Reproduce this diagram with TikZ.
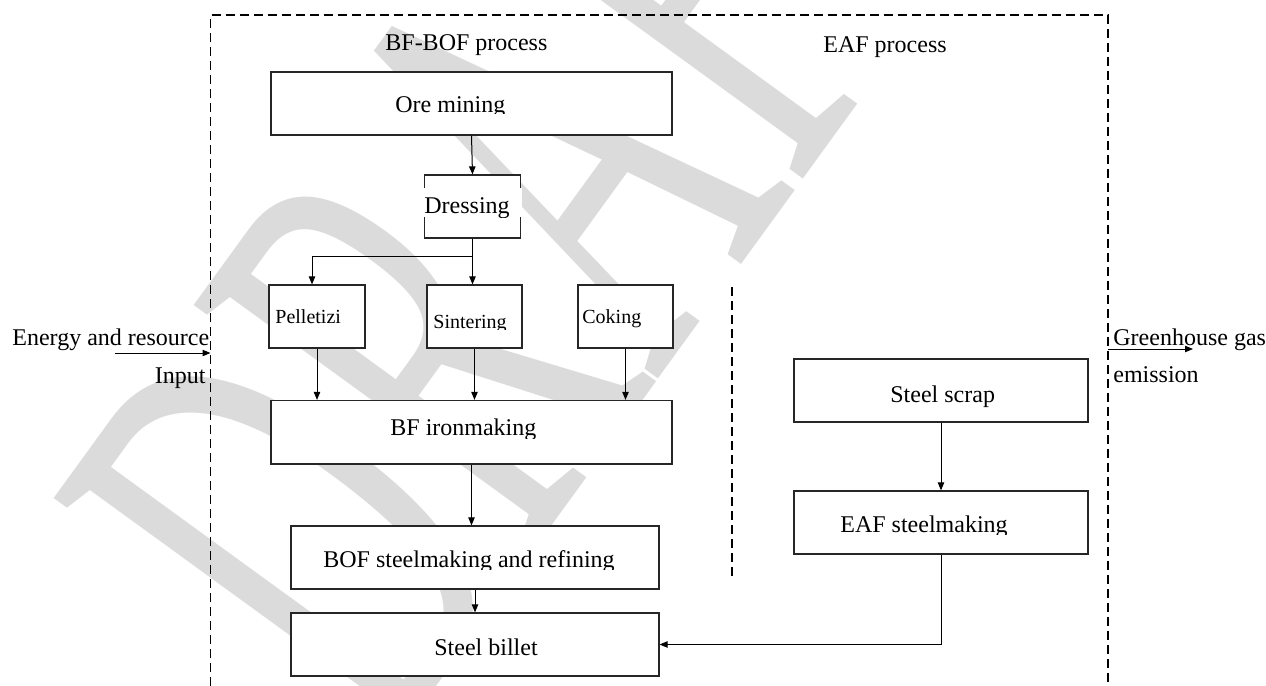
\documentclass[tikz,border=0pt]{standalone}
\usepackage{fontspec}
\setmainfont{Liberation Serif}
\usetikzlibrary{arrows.meta,calc}
\definecolor{wmgray}{gray}{0.86}
\begin{document}
\begin{tikzpicture}[x=0.5pt,y=0.5pt,
  box/.style={draw=black!85, line width=0.6pt, fill=white, inner sep=0pt, minimum height=31.5pt},
  arr/.style={line width=0.5pt, -{Triangle[length=4pt,width=3.2pt]}},
  frame/.style={line width=0.6pt, dash pattern=on 4.5pt off 2.5pt},
  lbl/.style={inner sep=0pt, font=\fontsize{12}{14}\selectfont},
  slbl/.style={inner sep=0pt, font=\fontsize{10}{12}\selectfont},
  wm/.style={inner sep=0pt, text=wmgray, font=\fontsize{320}{320}\selectfont}]
\useasboundingbox (0,0) rectangle (1266,-686);
\clip (0,0) rectangle (1266,-686);

% watermark behind everything
\begin{scope}[shift={(387,-753)}, rotate=54, xscale=0.516]
  \node[wm, anchor=base west, transform shape] (wmark) at (0,0) {DRAFT};
\end{scope}

% outer dashed frame and the divider between the two routes
\coordinate (fBL) at (210.5,-700);
\coordinate (fTL) at (210.5,-15);
\coordinate (fTR) at (1108,-15);
\coordinate (fBR) at (1108,-700);
\draw[frame] (fBL) -- (fTL) -- (fTR) -- (fBR);
\coordinate (dvT) at (732,-287);
\coordinate (dvB) at (732,-577);
\draw[frame] (dvT) -- (dvB);

% section titles
\node[lbl, anchor=base west] (t1) at (385,-50) {BF-BOF process};
\node[lbl, anchor=base west] (t2) at (823,-52) {EAF process};

% process boxes
\node[box, minimum width=200.5pt] (ore) at (471.5,-103.5) {};
\node[box, minimum width=47.75pt] (dress) at (472.5,-206.5) {};
\node[box, minimum width=48pt] (pel) at (317,-316.5) {};
\node[box, minimum width=47.5pt] (sint) at (474.5,-316.5) {};
\node[box, minimum width=47.5pt] (cok) at (625.5,-316.5) {};
\node[box, minimum width=200.5pt, minimum height=31.75pt] (bf) at (471.5,-432.25) {};
\node[box, minimum width=184pt] (bof) at (475,-557.5) {};
\node[box, minimum width=184pt] (billet) at (475,-644.5) {};
\node[box, minimum width=147pt] (scrap) at (941,-390.5) {};
\node[box, minimum width=147pt] (eaf) at (941,-522.5) {};

% box texts (text frames cut the descenders just under the baseline)
\begin{scope}
  \clip (380,-80) rectangle (520,-113.5);
  \node[lbl, anchor=base west] (oretxt) at (395,-112) {Ore mining};
\end{scope}
\node[fill=white, inner sep=0pt, minimum width=50.5pt, minimum height=14.5pt] (dressbg) at (471.5,-202.5) {};
\begin{scope}
  \clip (420,-185) rectangle (522,-217);
  \node[lbl, anchor=base west] (dresstxt) at (424,-213) {Dressing};
\end{scope}
\node[slbl, anchor=base west] (peltxt) at (275,-323) {Pelletizi};
\begin{scope}
  \clip (428,-300) rectangle (520,-329);
  \node[slbl, anchor=base west] (sinttxt) at (433,-328) {Sintering};
\end{scope}
\node[slbl, anchor=base west] (coktxt) at (582,-323) {Coking};
\begin{scope}
  \clip (380,-410) rectangle (560,-438);
  \node[lbl, anchor=base west] (bftxt) at (390,-435) {BF ironmaking};
\end{scope}
\begin{scope}
  \clip (300,-540) rectangle (650,-569);
  \node[lbl, anchor=base west] (boftxt) at (323,-567) {BOF steelmaking and refining};
\end{scope}
\node[lbl, anchor=base west] (billettxt) at (434,-655) {Steel billet};
\node[lbl, anchor=base west] (scraptxt) at (890,-402) {Steel scrap};
\begin{scope}
  \clip (820,-505) rectangle (1050,-534);
  \node[lbl, anchor=base west] (eaftxt) at (840,-532) {EAF steelmaking};
\end{scope}

% flows
\draw[arr] (ore.south) -- (dress.north);
\draw[arr] (dress.south) -- (dress.south |- sint.north);
\coordinate (splitlevel) at (0,-256);
\coordinate (split) at (dress.south |- splitlevel);
\draw[arr] (split) -| ($(pel.north)+(-5,0)$);
\draw[arr] (pel.south) -- (pel.south |- bf.north);
\draw[arr] (sint.south) -- (sint.south |- bf.north);
\draw[arr] (cok.south) -- (cok.south |- bf.north);
\draw[arr] (bf.south) -- (bf.south |- bof.north);
\draw[arr] (bof.south) -- (billet.north);
\draw[arr] (scrap.south) -- (eaf.north);
\draw[arr] (eaf.south) |- (billet.east);

% system boundary input and output
\node[lbl, anchor=base west] (inlbl) at (12,-345) {Energy and resource};
\node[lbl, anchor=base east] (inlbl2) at (206,-383) {Input};
\coordinate (inStart) at (115,-353);
\coordinate (inEnd) at (210.5,-353);
\draw[arr] (inStart) -- (inEnd);
\node[lbl, anchor=base west] (outlbl) at (1113,-345) {Greenhouse gas};
\node[lbl, anchor=base west] (outlbl2) at (1113,-382) {emission};
\coordinate (outStart) at (1108,-349);
\coordinate (outEnd) at (1193,-349);
\draw[arr] (outStart) -- (outEnd);
\end{tikzpicture}
\end{document}
